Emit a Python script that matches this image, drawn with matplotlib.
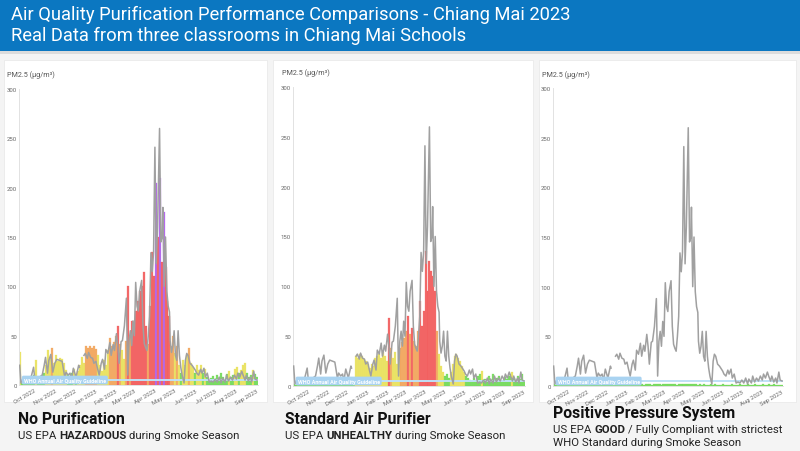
import numpy as np
import pandas as pd
import matplotlib
matplotlib.use("Agg")
import matplotlib.pyplot as plt
import matplotlib.dates as mdates
import matplotlib.transforms as mtransforms
from matplotlib.patches import Rectangle

plt.rcParams['font.family'] = ['Roboto', 'DejaVu Sans']

# ---------------- DATA ----------------
title_line1 = "Air Quality Purification Performance Comparisons - Chiang Mai 2023"
title_line2 = "Real Data from three classrooms in Chiang Mai Schools"
y_label = "PM2.5 (µg/m³)"
who_label = "WHO Annual Air Quality Guideline"
who_value = 5
month_labels = ["Oct 2022", "Nov 2022", "Dec 2022", "Jan 2023", "Feb 2023", "Mar 2023",
                "Apr 2023", "May 2023", "Jun 2023", "Jul 2023", "Aug 2023", "Sep 2023"]
month_ticks = ["2022-10-01", "2022-11-01", "2022-12-01", "2023-01-01", "2023-02-01", "2023-03-01",
               "2023-04-01", "2023-05-01", "2023-06-01", "2023-07-01", "2023-08-01", "2023-09-01"]
y_ticks = [0, 50, 100, 150, 200, 250, 300]

# outdoor PM2.5 (grey line): day offset from 2022-10-01 and value
outdoor_day = [-22, -20, -17, -13, -9, -6, -4, -1, 1, 4, 8, 12, 15, 17, 20, 22, 25, 28, 31, 34,
               38, 42, 46, 48, 51, 54, 56, 59, 63, 67, 68, 71, 75, 77, 80, 82, 85, 88, 90, 93,
               95, 98, 101, 103, 106, 108, 111, 114, 116, 119, 121, 124, 126, 128, 131, 133, 136, 139, 141, 143,
               145, 147, 149, 151, 153, 155, 157, 159, 162, 164, 166, 168, 170, 172, 174, 176, 178, 180, 182, 184,
               186, 189, 191, 193, 194, 196, 198, 200, 202, 204, 205, 207, 209, 211, 213, 215, 217, 219, 221, 223,
               226, 228, 230, 232, 235, 238, 240, 243, 245, 248, 251, 253, 256, 258, 261, 264, 267, 270, 273, 276,
               279, 282, 284, 288, 290, 293, 296, 299, 302, 305, 307, 310, 313, 315, 318, 320, 323, 326, 328, 331,
               333, 336]
outdoor_val = [20, 2, 5, 4, 8, 6, 10, 18, 5, 6, 8, 10, 20, 28, 12, 25, 31, 13, 22, 26,
               25, 24, 8, 13, 10, 12, 5, 17, 8, 20, 18, np.nan, 30, 32, 27, 33, 28, 27, 22, 24,
               18, 10, 22, 26, 16, 36, 32, 43, 30, 41, 35, 52, 40, 22, 44, 45, 60, 88, 10, 45,
               55, 40, 65, 50, 104, 80, 75, 95, 106, 60, 42, 38, 35, 50, 70, 134, 115, 135, 241, 123,
               160, 260, 145, 150, 180, 100, 150, 95, 80, 74, 45, 33, 40, 55, 30, 25, 55, 30, 18, 10,
               2, 25, 32, 30, 22, 20, 18, 15, 12, 10, 16, 12, 17, 8, 12, 3, 4, 3, 6, 3,
               8, 2, 7, 3, 10, 4, 8, 5, 10, 6, 12, 8, 14, 10, 5, 10, 4, 8, 3, 14,
               6, 5]

# indoor PM2.5 (bars), every 3 days from 2022-09-10
bar_start = "2022-09-10"
no_purification = [33, 4, 3, 5, 4, 6, 8, 10, 25, 8,
                   6, 10, 12, 20, 35, 28, 37, 22, 30, 24,
                   27, 26, 22, 15, 10, 8, 12, 16, 10, 14,
                   20, 28, 22, 40, 38, 40, 37, 40, 36, 30,
                   20, 14, 25, 20, 35, 48, 40, 44, 50, 60,
                   42, 35, 26, 45, 100, 50, 65, 58, 75, 85,
                   95, 100, 115, 60, 42, 80, 135, 110, 205, 150,
                   210, 125, 175, 120, 85, 70, 40, 50, 32, 40,
                   20, 12, 25, 20, 30, 38, 22, 18, 12, 20,
                   15, 20, 12, 16, 8, 5, 7, 9, 6, 10,
                   5, 12, 8, 6, 11, 14, 8, 10, 16, 18,
                   12, 15, 20, 22, 12, 8, 10, 15, 11, 8]
standard_purifier = [2, 1, 1, 1, 2, 1, 1, 2, 1, 1,
                     1, 1, 2, 1, 1, 2, 1, 1, 2, 1,
                     1, 1, 2, 1, 1, 1, 2, 1, 1, 2,
                     1, 2, 30, 28, 32, 30, 27, 25, 22, 18,
                     22, 20, 28, 30, 32, 28, 34, 30, 25, 68,
                     38, 28, 34, 22, 30, 38, 44, 48, 55, 70,
                     52, 58, 45, 40, 55, 85, 60, 75, 135, 95,
                     125, 115, 110, 95, 55, 32, 20, 14, 10, 12,
                     8, 14, 22, 30, 32, 28, 25, 20, 14, 10,
                     8, 6, 5, 8, 6, 10, 12, 15, 5, 7,
                     4, 10, 6, 12, 5, 8, 10, 6, 5, 9,
                     7, 10, 12, 14, 8, 6, 10, 7, 12, 5]
positive_pressure = [2, 1.5, 1, 2, 1.5, 2, 1, 1.5, 2, 1,
                     1.5, 2, 1, 2, 1.5, 2, 2.5, 1.5, 2, 1,
                     1.5, 2, 1, 1.5, 2, 1, 1.5, 2, 1, 1.5,
                     2, 1.5, 2, 2.5, 2, 1.5, 2, 2.5, 2, 1.5,
                     2, 1.5, 2, 2.5, 2, 2.5, 2, 1.5, 2, 2.5,
                     2, 1.5, 2, 2, 2.5, 2, 1.5, 2, 2.5, 2,
                     2.5, 2, 2.5, 2, 1.5, 2, 2.5, 2, 2.5, 2,
                     2.5, 2, 2.5, 2, 2, 1.5, 2, 1.5, 2, 1.5,
                     1, 1.5, 2, 1.5, 2, 1.5, 1, 1.5, 2, 1,
                     1.5, 1, 1.5, 2, 1, 1.5, 1, 2, 1.5, 1,
                     1.5, 2, 1, 1.5, 1, 2, 1.5, 1, 1.5, 2,
                     1, 1.5, 2, 1.5, 1, 2, 1.5, 1, 1.5, 1]

panel_titles = ["No Purification", "Standard Air Purifier", "Positive Pressure System"]
panel_subtitles = [
    [[("US EPA", "normal"), ("HAZARDOUS", "bold"), ("during Smoke Season", "normal")]],
    [[("US EPA", "normal"), ("UNHEALTHY", "bold"), ("during Smoke Season", "normal")]],
    [[("US EPA", "normal"), ("GOOD", "bold"), ("/ Fully Compliant with strictest", "normal")],
     [("WHO Standard during Smoke Season", "normal")]],
]
indoor_series = [no_purification, standard_purifier, positive_pressure]

# ---------------- LAYOUT / STYLE ----------------
W, H = 800, 452
fig = plt.figure(figsize=(W / 100, H / 100), dpi=100, facecolor='#f4f4f4')


def fx(x):
    return x / W


def fy(y):
    return 1 - y / H


# title bar
fig.add_artist(Rectangle((0, fy(55)), 1, 55 / H, transform=fig.transFigure,
                         facecolor='#dcdcdc', edgecolor='none', zorder=0))
fig.add_artist(Rectangle((0, fy(52)), 1, 52 / H, transform=fig.transFigure,
                         facecolor='#0b77c1', edgecolor='none', zorder=1))
fig.text(fx(11), fy(20), title_line1, color='white', fontsize=13.2, va='baseline', ha='left')
fig.text(fx(11), fy(41), title_line2, color='white', fontsize=13.2, va='baseline', ha='left')

cards = [(4, 267), (273, 533), (539, 796)]
for l, r in cards:
    fig.add_artist(Rectangle((fx(l), fy(403)), (r - l) / W, (403 - 61) / H, transform=fig.transFigure,
                             facecolor='white', edgecolor='#eaeaea', lw=0.6, zorder=0))

axes_px = [(19, 258, 90, 386), (293, 525, 88, 387), (553, 783, 89, 387)]
ylabel_pos = [(7, 77), (282, 75), (542, 77)]
title_pos = [(18, 424), (285, 424), (553, 418)]
sub_pos = [[(18, 439)], [(285, 439)], [(553, 433), (553, 446)]]

base = pd.Timestamp("2022-10-01")
base_num = mdates.date2num(base.to_pydatetime())
out_x = base_num + np.array(outdoor_day, dtype=float)
bar_x = mdates.date2num(pd.date_range(bar_start, periods=len(no_purification), freq="3D").to_pydatetime())
tick_x = mdates.date2num(pd.to_datetime(month_ticks).to_pydatetime())
out_y = np.array(outdoor_val, dtype=float)


def aqi_color(v):
    if v <= 12:
        return '#6ad84f'
    if v <= 35.4:
        return '#e8e052'
    if v <= 55.4:
        return '#f2a052'
    if v <= 150.4:
        return '#f25252'
    if v <= 250.4:
        return '#a955ea'
    return '#8b1a3a'


renderer = fig.canvas.get_renderer()


def text_width(s, size, weight):
    t = fig.text(0, 0, s, fontsize=size, fontweight=weight)
    w = t.get_window_extent(renderer).width
    t.remove()
    return w


def rich_line(x, y, parts, size, color):
    space = text_width("a a", size, "normal") - text_width("aa", size, "normal")
    cx = x
    for s, wgt in parts:
        t = fig.text(fx(cx), fy(y), s, fontsize=size, fontweight=wgt, color=color,
                     va='baseline', ha='left')
        cx += t.get_window_extent(renderer).width + space


for i, (l, r, t, b) in enumerate(axes_px):
    ax = fig.add_axes([fx(l), fy(b), (r - l) / W, (b - t) / H])
    ax.set_facecolor('none')
    vals = np.array(indoor_series[i], dtype=float)
    cols = [aqi_color(v) for v in vals]
    ax.bar(bar_x, vals, width=3.0, color=cols, edgecolor=cols, linewidth=0.2,
           alpha=0.85, zorder=2)
    ax.plot(out_x, out_y, color='#a0a0a0', lw=1.1, zorder=3)
    ax.axhline(who_value, color='#bfe0f6', lw=1.4, zorder=2.5)
    trans = mtransforms.blended_transform_factory(ax.transAxes, ax.transData)
    ax.text(0.02, who_value, who_label, transform=trans, fontsize=3.9, color='white',
            fontweight='bold', va='center', ha='left', zorder=4,
            bbox=dict(boxstyle='round,pad=0.35,rounding_size=0.3', fc='#a9d3f1', ec='none'))
    ax.set_ylim(0, 300)
    ax.set_xlim(base_num - 23, base_num + 337.5)
    ax.set_yticks(y_ticks)
    ax.set_yticklabels([str(v) for v in y_ticks])
    ax.set_xticks(tick_x)
    ax.set_xticklabels(month_labels, rotation=30, ha='right', rotation_mode='anchor')
    ax.tick_params(axis='both', length=0, labelsize=4.3, labelcolor='#666666')
    ax.tick_params(axis='y', pad=1.5)
    ax.tick_params(axis='x', pad=2)
    for s in ['top', 'right']:
        ax.spines[s].set_visible(False)
    ax.spines['left'].set_color('#e2e2e2')
    ax.spines['bottom'].set_color('#e2e2e2')
    ax.spines['left'].set_linewidth(0.7)
    ax.spines['bottom'].set_linewidth(0.7)

    lx, ly = ylabel_pos[i]
    fig.text(fx(lx), fy(ly), y_label, fontsize=5.2, color='#555555', va='baseline', ha='left')

    tx, ty = title_pos[i]
    fig.text(fx(tx), fy(ty), panel_titles[i], fontsize=11.3, fontweight='bold',
             color='#111111', va='baseline', ha='left')
    for (sx, sy), parts in zip(sub_pos[i], panel_subtitles[i]):
        rich_line(sx, sy, parts, 8.2, '#222222')

fig.savefig("out.png", dpi=100, facecolor=fig.get_facecolor())
